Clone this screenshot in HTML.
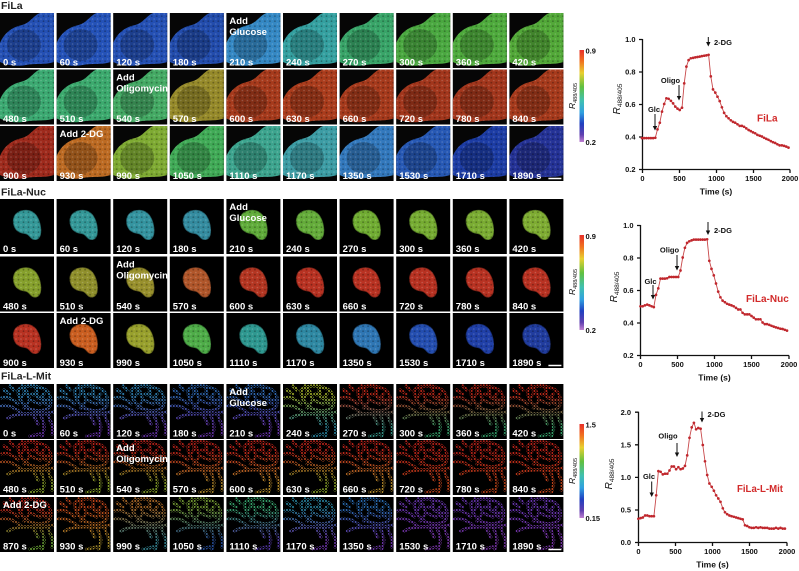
<!DOCTYPE html>
<html><head><meta charset="utf-8">
<style>
html,body{margin:0;padding:0;background:#fff}
svg{display:block}
.t{font:bold 9.5px "Liberation Sans",Arial,sans-serif;fill:#fff}
.p{font:bold 10.5px "Liberation Sans",Arial,sans-serif;fill:#222}
.a{font:bold 7.5px "Liberation Sans",Arial,sans-serif;fill:#111}
.at{font:bold 8.5px "Liberation Sans",Arial,sans-serif;fill:#111}
.yt{font:10px "Liberation Sans",Arial,sans-serif;fill:#111}
.s{font:bold 10px "Liberation Sans",Arial,sans-serif;fill:#d22a2a}
</style></head><body>
<svg width="799" height="571" viewBox="0 0 799 571" xmlns="http://www.w3.org/2000/svg">
<defs>
<pattern id="sp" width="5" height="5" patternUnits="userSpaceOnUse"><circle cx="1" cy="1" r=".8" fill="#fff" opacity=".2"/><circle cx="3.5" cy="3.2" r=".9" fill="#000" opacity=".3"/></pattern>
<pattern id="dw" width="3" height="3" patternUnits="userSpaceOnUse"><rect width="3" height="3" fill="#000"/><circle cx="1" cy="1" r=".95" fill="#fff"/><circle cx="2.3" cy="2.4" r=".55" fill="#bbb"/></pattern>
<mask id="mm" maskUnits="userSpaceOnUse" x="0" y="0" width="54" height="55">
<g fill="none" stroke="url(#dw)" stroke-width="3.3" stroke-linecap="round" stroke-linejoin="round">
<path d="M18,6 C24,1 34,1 42,4 C50,7 52,14 50,22 C46,28 36,28 28,24 C22,20 18,14 18,6 Z"/>
<path d="M26,6 L30,16 L40,20 M36,4 L38,14 L48,16 M30,16 L24,24"/>
<path d="M22,2 C26,8 24,12 20,14 M44,10 C40,12 42,18 46,20 M32,10 C34,12 36,10 36,8"/>
<path d="M2,14 C8,12 14,16 18,20 M0,22 C8,20 16,24 22,30 M4,6 L10,10 M10,2 L14,6"/>
<path d="M8,34 C18,28 32,30 44,30 L54,28"/>
<path d="M40,30 C44,38 46,44 42,52 M48,30 C50,38 54,42 52,50 M34,32 L38,40 M30,52 L40,50"/>
</g>
</mask>
<g id="F">
<rect width="54" height="55" fill="#060606"/>
<path d="M0,30 C4,20 12,14 22,12 C30,10 34,2 40,0 L54,0 L54,49 C46,52 36,50 26,52 C16,54 6,52 0,49 Z"/>
<ellipse cx="24" cy="32" rx="17" ry="16" fill="#000" opacity=".22"/>
<path d="M0,30 C4,20 12,14 22,12 C30,10 34,2 40,0 L54,0 L54,49 C46,52 36,50 26,52 C16,54 6,52 0,49 Z" fill="url(#sp)"/>
</g>
<g id="N">
<rect width="54" height="55" fill="#000"/>
<path d="M13,24 C12,14 20,10 28,11 C36,12 40,20 41,28 C42,36 40,41 35,41 C30,41 30,36 25,35 C17,34 14,30 13,24 Z"/>
<path d="M13,24 C12,14 20,10 28,11 C36,12 40,20 41,28 C42,36 40,41 35,41 C30,41 30,36 25,35 C17,34 14,30 13,24 Z" fill="url(#sp)" stroke="#000" stroke-opacity=".35" stroke-width="1.5"/>
</g>
<g id="M">
<rect width="54" height="55" fill="#000"/>
<rect width="54" height="55" mask="url(#mm)"/>
</g>
<linearGradient id="cb" x1="0" y1="0" x2="0" y2="1">
<stop offset="0" stop-color="#e8302a"/><stop offset=".12" stop-color="#f07020"/><stop offset=".25" stop-color="#e8d030"/><stop offset=".4" stop-color="#60c040"/><stop offset=".55" stop-color="#40c0b0"/><stop offset=".68" stop-color="#30a0e0"/><stop offset=".8" stop-color="#2040c0"/><stop offset=".92" stop-color="#6040b0"/><stop offset="1" stop-color="#c080d0"/>
</linearGradient>
<linearGradient id="g0" x1="0" y1="0" x2="0" y2="1"><stop offset=".2" stop-color="#3490c8"/><stop offset=".8" stop-color="#7038b8"/></linearGradient>
<linearGradient id="g1" x1="0" y1="0" x2="0" y2="1"><stop offset=".2" stop-color="#3474c8"/><stop offset=".8" stop-color="#7038b8"/></linearGradient>
<linearGradient id="g2" x1="0" y1="0" x2="0" y2="1"><stop offset=".2" stop-color="#b0c02c"/><stop offset=".8" stop-color="#2c92b0"/></linearGradient>
<linearGradient id="g3" x1="0" y1="0" x2="0" y2="1"><stop offset=".2" stop-color="#d02c1c"/><stop offset=".8" stop-color="#3aa092"/></linearGradient>
<linearGradient id="g4" x1="0" y1="0" x2="0" y2="1"><stop offset=".2" stop-color="#d02c1c"/><stop offset=".8" stop-color="#3ab074"/></linearGradient>
<linearGradient id="g5" x1="0" y1="0" x2="0" y2="1"><stop offset=".2" stop-color="#d0261c"/><stop offset=".8" stop-color="#92b02c"/></linearGradient>
<linearGradient id="g6" x1="0" y1="0" x2="0" y2="1"><stop offset=".2" stop-color="#d0261c"/><stop offset=".8" stop-color="#c0942c"/></linearGradient>
<linearGradient id="g7" x1="0" y1="0" x2="0" y2="1"><stop offset=".2" stop-color="#d0261c"/><stop offset=".8" stop-color="#d04a1c"/></linearGradient>
<linearGradient id="g8" x1="0" y1="0" x2="0" y2="1"><stop offset=".2" stop-color="#d0261c"/><stop offset=".8" stop-color="#74b03a"/></linearGradient>
<linearGradient id="g9" x1="0" y1="0" x2="0" y2="1"><stop offset=".2" stop-color="#d04a1c"/><stop offset=".8" stop-color="#b0942c"/></linearGradient>
<linearGradient id="g10" x1="0" y1="0" x2="0" y2="1"><stop offset=".2" stop-color="#c0762c"/><stop offset=".8" stop-color="#3a92a2"/></linearGradient>
<linearGradient id="g11" x1="0" y1="0" x2="0" y2="1"><stop offset=".2" stop-color="#84b03a"/><stop offset=".8" stop-color="#2c58b0"/></linearGradient>
<linearGradient id="g12" x1="0" y1="0" x2="0" y2="1"><stop offset=".2" stop-color="#3ab074"/><stop offset=".8" stop-color="#583ab0"/></linearGradient>
<linearGradient id="g13" x1="0" y1="0" x2="0" y2="1"><stop offset=".2" stop-color="#2c92b0"/><stop offset=".8" stop-color="#763ab8"/></linearGradient>
<linearGradient id="g14" x1="0" y1="0" x2="0" y2="1"><stop offset=".2" stop-color="#2c74c0"/><stop offset=".8" stop-color="#763ab8"/></linearGradient>
<linearGradient id="g15" x1="0" y1="0" x2="0" y2="1"><stop offset=".2" stop-color="#723ac0"/><stop offset=".8" stop-color="#843ab8"/></linearGradient>
<marker id="dot" markerWidth="4" markerHeight="4" refX="2" refY="2" markerUnits="userSpaceOnUse"><circle cx="2" cy="2" r="1.35" fill="#c0272d"/></marker>
</defs>

<!-- Panel labels -->
<text class="p" x="1" y="8.8">FiLa</text>
<text class="p" x="1" y="195.5">FiLa-Nuc</text>
<text class="p" x="1" y="379.5">FiLa-L-Mit</text>

<!-- ===== FiLa panel ===== -->
<g transform="translate(0,13)"><use href="#F" fill="#2450b4"/><text class="t" x="3" y="52.5">0 s</text></g>
<g transform="translate(56.6,13)"><use href="#F" fill="#2452b8"/><text class="t" x="3" y="52.5">60 s</text></g>
<g transform="translate(113.2,13)"><use href="#F" fill="#2450b4"/><text class="t" x="3" y="52.5">120 s</text></g>
<g transform="translate(169.8,13)"><use href="#F" fill="#224cac"/><text class="t" x="3" y="52.5">180 s</text></g>
<g transform="translate(226.4,13)"><use href="#F" fill="#3488c4"/><text class="t" x="3" y="11">Add</text><text class="t" x="3" y="22">Glucose</text><text class="t" x="3" y="52.5">210 s</text></g>
<g transform="translate(283,13)"><use href="#F" fill="#34a0a0"/><text class="t" x="3" y="52.5">240 s</text></g>
<g transform="translate(339.6,13)"><use href="#F" fill="#38a468"/><text class="t" x="3" y="52.5">270 s</text></g>
<g transform="translate(396.2,13)"><use href="#F" fill="#4aa840"/><text class="t" x="3" y="52.5">300 s</text></g>
<g transform="translate(452.8,13)"><use href="#F" fill="#4eaa3c"/><text class="t" x="3" y="52.5">360 s</text></g>
<g transform="translate(509.4,13)"><use href="#F" fill="#52a838"/><text class="t" x="3" y="52.5">420 s</text></g>

<g transform="translate(0,69.5)"><use href="#F" fill="#3caa72"/><text class="t" x="3" y="52.5">480 s</text></g>
<g transform="translate(56.6,69.5)"><use href="#F" fill="#3caa6e"/><text class="t" x="3" y="52.5">510 s</text></g>
<g transform="translate(113.2,69.5)"><use href="#F" fill="#44aa64"/><text class="t" x="3" y="11">Add</text><text class="t" x="3" y="22">Oligomycin</text><text class="t" x="3" y="52.5">540 s</text></g>
<g transform="translate(169.8,69.5)"><use href="#F" fill="#968a2a"/><text class="t" x="3" y="52.5">570 s</text></g>
<g transform="translate(226.4,69.5)"><use href="#F" fill="#a63a1c"/><text class="t" x="3" y="52.5">600 s</text></g>
<g transform="translate(283,69.5)"><use href="#F" fill="#aa3c1c"/><text class="t" x="3" y="52.5">630 s</text></g>
<g transform="translate(339.6,69.5)"><use href="#F" fill="#a63a1c"/><text class="t" x="3" y="52.5">660 s</text></g>
<g transform="translate(396.2,69.5)"><use href="#F" fill="#a2361c"/><text class="t" x="3" y="52.5">720 s</text></g>
<g transform="translate(452.8,69.5)"><use href="#F" fill="#a2361c"/><text class="t" x="3" y="52.5">780 s</text></g>
<g transform="translate(509.4,69.5)"><use href="#F" fill="#a63a1c"/><text class="t" x="3" y="52.5">840 s</text></g>

<g transform="translate(0,126)"><use href="#F" fill="#9e2a1c"/><text class="t" x="3" y="53">900 s</text></g>
<g transform="translate(56.6,126)"><use href="#F" fill="#bc6a22"/><text class="t" x="3" y="11">Add 2-DG</text><text class="t" x="3" y="53">930 s</text></g>
<g transform="translate(113.2,126)"><use href="#F" fill="#7eaa32"/><text class="t" x="3" y="53">990 s</text></g>
<g transform="translate(169.8,126)"><use href="#F" fill="#40aa56"/><text class="t" x="3" y="53">1050 s</text></g>
<g transform="translate(226.4,126)"><use href="#F" fill="#3ca48e"/><text class="t" x="3" y="53">1110 s</text></g>
<g transform="translate(283,126)"><use href="#F" fill="#3c9ca4"/><text class="t" x="3" y="53">1170 s</text></g>
<g transform="translate(339.6,126)"><use href="#F" fill="#3278bc"/><text class="t" x="3" y="53">1350 s</text></g>
<g transform="translate(396.2,126)"><use href="#F" fill="#2658b4"/><text class="t" x="3" y="53">1530 s</text></g>
<g transform="translate(452.8,126)"><use href="#F" fill="#1c3ca4"/><text class="t" x="3" y="53">1710 s</text></g>
<g transform="translate(509.4,126)"><use href="#F" fill="#243296"/><text class="t" x="3" y="53">1890 s</text><line x1="39" y1="52.5" x2="52" y2="52.5" stroke="#fff" stroke-width="1.5"/></g>

<!-- ===== FiLa-Nuc panel ===== -->
<g transform="translate(0,199)"><use href="#N" fill="#349898"/><text class="t" x="3" y="53">0 s</text></g>
<g transform="translate(56.6,199)"><use href="#N" fill="#349898"/><text class="t" x="3" y="53">60 s</text></g>
<g transform="translate(113.2,199)"><use href="#N" fill="#3494a0"/><text class="t" x="3" y="53">120 s</text></g>
<g transform="translate(169.8,199)"><use href="#N" fill="#348ca0"/><text class="t" x="3" y="53">180 s</text></g>
<g transform="translate(226.4,199)"><use href="#N" fill="#60ac3a"/><text class="t" x="3" y="11">Add</text><text class="t" x="3" y="22">Glucose</text><text class="t" x="3" y="53">210 s</text></g>
<g transform="translate(283,199)"><use href="#N" fill="#64ac3a"/><text class="t" x="3" y="53">240 s</text></g>
<g transform="translate(339.6,199)"><use href="#N" fill="#70ac32"/><text class="t" x="3" y="53">270 s</text></g>
<g transform="translate(396.2,199)"><use href="#N" fill="#76ac32"/><text class="t" x="3" y="53">300 s</text></g>
<g transform="translate(452.8,199)"><use href="#N" fill="#7aac32"/><text class="t" x="3" y="53">360 s</text></g>
<g transform="translate(509.4,199)"><use href="#N" fill="#7eac32"/><text class="t" x="3" y="53">420 s</text></g>

<g transform="translate(0,256.5)"><use href="#N" fill="#86a02c"/><text class="t" x="3" y="53">480 s</text></g>
<g transform="translate(56.6,256.5)"><use href="#N" fill="#90902c"/><text class="t" x="3" y="53">510 s</text></g>
<g transform="translate(113.2,256.5)"><use href="#N" fill="#98902c"/><text class="t" x="3" y="11">Add</text><text class="t" x="3" y="22">Oligomycin</text><text class="t" x="3" y="53">540 s</text></g>
<g transform="translate(169.8,256.5)"><use href="#N" fill="#b0562a"/><text class="t" x="3" y="53">570 s</text></g>
<g transform="translate(226.4,256.5)"><use href="#N" fill="#b43622"/><text class="t" x="3" y="53">600 s</text></g>
<g transform="translate(283,256.5)"><use href="#N" fill="#b83222"/><text class="t" x="3" y="53">630 s</text></g>
<g transform="translate(339.6,256.5)"><use href="#N" fill="#b83222"/><text class="t" x="3" y="53">660 s</text></g>
<g transform="translate(396.2,256.5)"><use href="#N" fill="#b83222"/><text class="t" x="3" y="53">720 s</text></g>
<g transform="translate(452.8,256.5)"><use href="#N" fill="#b83222"/><text class="t" x="3" y="53">780 s</text></g>
<g transform="translate(509.4,256.5)"><use href="#N" fill="#b83222"/><text class="t" x="3" y="53">840 s</text></g>

<g transform="translate(0,313)"><use href="#N" fill="#b83222"/><text class="t" x="3" y="53">900 s</text></g>
<g transform="translate(56.6,313)"><use href="#N" fill="#ca5e20"/><text class="t" x="3" y="11">Add 2-DG</text><text class="t" x="3" y="53">930 s</text></g>
<g transform="translate(113.2,313)"><use href="#N" fill="#98a02c"/><text class="t" x="3" y="53">990 s</text></g>
<g transform="translate(169.8,313)"><use href="#N" fill="#4eac48"/><text class="t" x="3" y="53">1050 s</text></g>
<g transform="translate(226.4,313)"><use href="#N" fill="#2e9890"/><text class="t" x="3" y="53">1110 s</text></g>
<g transform="translate(283,313)"><use href="#N" fill="#2e88a2"/><text class="t" x="3" y="53">1170 s</text></g>
<g transform="translate(339.6,313)"><use href="#N" fill="#2e76b4"/><text class="t" x="3" y="53">1350 s</text></g>
<g transform="translate(396.2,313)"><use href="#N" fill="#244eb0"/><text class="t" x="3" y="53">1530 s</text></g>
<g transform="translate(452.8,313)"><use href="#N" fill="#2040a8"/><text class="t" x="3" y="53">1710 s</text></g>
<g transform="translate(509.4,313)"><use href="#N" fill="#203c9e"/><text class="t" x="3" y="53">1890 s</text><line x1="39" y1="52.5" x2="52" y2="52.5" stroke="#fff" stroke-width="1.5"/></g>

<!-- ===== FiLa-L-Mit panel ===== -->
<g transform="translate(0,384)"><use href="#M" fill="url(#g0)"/><text class="t" x="3" y="52.5">0 s</text></g>
<g transform="translate(56.6,384)"><use href="#M" fill="url(#g0)"/><text class="t" x="3" y="52.5">60 s</text></g>
<g transform="translate(113.2,384)"><use href="#M" fill="url(#g0)"/><text class="t" x="3" y="52.5">120 s</text></g>
<g transform="translate(169.8,384)"><use href="#M" fill="url(#g1)"/><text class="t" x="3" y="52.5">180 s</text></g>
<g transform="translate(226.4,384)"><use href="#M" fill="url(#g1)"/><text class="t" x="3" y="11">Add</text><text class="t" x="3" y="22">Glucose</text><text class="t" x="3" y="52.5">210 s</text></g>
<g transform="translate(283,384)"><use href="#M" fill="url(#g2)"/><text class="t" x="3" y="52.5">240 s</text></g>
<g transform="translate(339.6,384)"><use href="#M" fill="url(#g3)"/><text class="t" x="3" y="52.5">270 s</text></g>
<g transform="translate(396.2,384)"><use href="#M" fill="url(#g4)"/><text class="t" x="3" y="52.5">300 s</text></g>
<g transform="translate(452.8,384)"><use href="#M" fill="url(#g4)"/><text class="t" x="3" y="52.5">360 s</text></g>
<g transform="translate(509.4,384)"><use href="#M" fill="url(#g4)"/><text class="t" x="3" y="52.5">420 s</text></g>

<g transform="translate(0,440)"><use href="#M" fill="url(#g5)"/><text class="t" x="3" y="52.5">480 s</text></g>
<g transform="translate(56.6,440)"><use href="#M" fill="url(#g5)"/><text class="t" x="3" y="52.5">510 s</text></g>
<g transform="translate(113.2,440)"><use href="#M" fill="url(#g5)"/><text class="t" x="3" y="11">Add</text><text class="t" x="3" y="22">Oligomycin</text><text class="t" x="3" y="52.5">540 s</text></g>
<g transform="translate(169.8,440)"><use href="#M" fill="url(#g6)"/><text class="t" x="3" y="52.5">570 s</text></g>
<g transform="translate(226.4,440)"><use href="#M" fill="url(#g6)"/><text class="t" x="3" y="52.5">600 s</text></g>
<g transform="translate(283,440)"><use href="#M" fill="url(#g5)"/><text class="t" x="3" y="52.5">630 s</text></g>
<g transform="translate(339.6,440)"><use href="#M" fill="url(#g6)"/><text class="t" x="3" y="52.5">660 s</text></g>
<g transform="translate(396.2,440)"><use href="#M" fill="url(#g7)"/><text class="t" x="3" y="52.5">720 s</text></g>
<g transform="translate(452.8,440)"><use href="#M" fill="url(#g7)"/><text class="t" x="3" y="52.5">780 s</text></g>
<g transform="translate(509.4,440)"><use href="#M" fill="url(#g7)"/><text class="t" x="3" y="52.5">840 s</text></g>

<g transform="translate(0,497)"><use href="#M" fill="url(#g8)"/><text class="t" x="3" y="11">Add 2-DG</text><text class="t" x="3" y="52.5">870 s</text></g>
<g transform="translate(56.6,497)"><use href="#M" fill="url(#g9)"/><text class="t" x="3" y="52.5">930 s</text></g>
<g transform="translate(113.2,497)"><use href="#M" fill="url(#g10)"/><text class="t" x="3" y="52.5">990 s</text></g>
<g transform="translate(169.8,497)"><use href="#M" fill="url(#g11)"/><text class="t" x="3" y="52.5">1050 s</text></g>
<g transform="translate(226.4,497)"><use href="#M" fill="url(#g12)"/><text class="t" x="3" y="52.5">1110 s</text></g>
<g transform="translate(283,497)"><use href="#M" fill="url(#g13)"/><text class="t" x="3" y="52.5">1170 s</text></g>
<g transform="translate(339.6,497)"><use href="#M" fill="url(#g14)"/><text class="t" x="3" y="52.5">1350 s</text></g>
<g transform="translate(396.2,497)"><use href="#M" fill="url(#g15)"/><text class="t" x="3" y="52.5">1530 s</text></g>
<g transform="translate(452.8,497)"><use href="#M" fill="url(#g15)"/><text class="t" x="3" y="52.5">1710 s</text></g>
<g transform="translate(509.4,497)"><use href="#M" fill="url(#g15)"/><text class="t" x="3" y="52.5">1890 s</text><line x1="39" y1="52.5" x2="52" y2="52.5" stroke="#fff" stroke-width="1.5"/></g>

<!-- ===== Colorbars ===== -->
<rect x="579.5" y="50" width="4.5" height="92" fill="url(#cb)"/>
<text class="a" x="585.5" y="53.5">0.9</text>
<text class="a" x="585.5" y="145">0.2</text>
<text class="yt" transform="translate(575,96) rotate(-90)" text-anchor="middle" style="font-size:8.5px"><tspan font-style="italic">R</tspan><tspan style="font-size:5.5px" dy="1.8">488/405</tspan></text>

<rect x="579.5" y="235" width="4.5" height="95" fill="url(#cb)"/>
<text class="a" x="585.5" y="239">0.9</text>
<text class="a" x="585.5" y="333">0.2</text>
<text class="yt" transform="translate(575,282) rotate(-90)" text-anchor="middle" style="font-size:8.5px"><tspan font-style="italic">R</tspan><tspan style="font-size:5.5px" dy="1.8">488/405</tspan></text>

<rect x="579.5" y="424" width="4.5" height="94" fill="url(#cb)"/>
<text class="a" x="585.5" y="427.5">1.5</text>
<text class="a" x="585.5" y="521">0.15</text>
<text class="yt" transform="translate(575,471) rotate(-90)" text-anchor="middle" style="font-size:8.5px"><tspan font-style="italic">R</tspan><tspan style="font-size:5.5px" dy="1.8">488/405</tspan></text>

<!-- ===== Chart 1 ===== -->
<g stroke="#111" stroke-width="1.3" fill="none">
<path d="M642.5,39 V169.5 H790"/>
<path d="M639,39.5 H642.5 M639,72 H642.5 M639,104.5 H642.5 M639,137 H642.5 M639,169.5 H642.5"/>
<path d="M642.5,169.5 V173 M679.5,169.5 V173 M716.5,169.5 V173 M753.5,169.5 V173 M790,169.5 V173"/>
</g>
<g class="a" text-anchor="end">
<text x="635.5" y="42.2">1.0</text><text x="635.5" y="74.7">0.8</text><text x="635.5" y="107.2">0.6</text><text x="635.5" y="139.7">0.4</text><text x="635.5" y="172.2">0.2</text>
</g>
<g class="a" text-anchor="middle">
<text x="642.5" y="181">0</text><text x="679.5" y="181">500</text><text x="716.5" y="181">1000</text><text x="753.5" y="181">1500</text><text x="790" y="181">2000</text>
</g>
<text class="at" x="716" y="194.5" text-anchor="middle">Time (s)</text>
<text class="yt" transform="translate(620,99) rotate(-90)" text-anchor="middle"><tspan font-style="italic">R</tspan><tspan style="font-size:6.5px" dy="2">488/405</tspan></text>
<polyline fill="none" stroke="#c8484a" stroke-width=".9" marker-start="url(#dot)" marker-mid="url(#dot)" marker-end="url(#dot)" points="642,138.1 644.2,138.1 646.4,138.1 648.7,138.1 650.9,138.1 653.1,138.1 655.3,137.8 657.5,129.4 659.8,122.7 662,111.6 664.2,104 666.4,98.3 668.6,98.8 670.9,100.8 673.1,103.4 675.3,106.6 677.5,108.6 679.7,110 682,107.7 684.2,83.4 686.4,66.6 688.6,60.1 690.8,58.3 693.1,57.9 695.3,57.4 697.5,57 699.7,56.6 701.9,56.1 704.2,55.7 706.4,55.4 708.6,54.8 710.8,76.4 713,89.4 715.3,92.6 717.5,96.7 719.7,101.1 721.9,107.3 724.1,112.9 726.4,116.2 728.6,118.3 730.8,120.3 733,121.9 735.2,122.7 737.5,124.3 739.7,125.9 741.9,125.9 744.1,126.8 746.3,128.4 748.6,130 750.8,131.1 753,132.4 755.2,133.3 757.4,134.9 759.7,135.7 761.9,136.5 764.1,137.8 766.3,138.9 768.5,139.8 770.8,141.1 773,142.2 775.2,143 777.4,144.3 779.6,145.4 781.9,145.4 784.1,145.9 786.3,146.6 788.5,147.6"/>
<g stroke="#111" stroke-width="1"><line x1="655" y1="114" x2="655" y2="127"/><line x1="679" y1="85" x2="679" y2="97"/><line x1="708.3" y1="37" x2="708.3" y2="43"/></g>
<g fill="#111"><polygon points="652.8,126 657.2,126 655,130.5"/><polygon points="676.8,96 681.2,96 679,100.5"/><polygon points="706.1,42 710.5,42 708.3,46.5"/></g>
<text class="a" x="654" y="112" text-anchor="middle">Glc</text>
<text class="a" x="670.5" y="83" text-anchor="middle">Oligo</text>
<text class="a" x="714" y="45">2-DG</text>
<text class="s" x="757" y="121.5">FiLa</text>

<!-- ===== Chart 2 ===== -->
<g stroke="#111" stroke-width="1.3" fill="none">
<path d="M640.5,225 V355.5 H789"/>
<path d="M637,225.5 H640.5 M637,258 H640.5 M637,290.5 H640.5 M637,323 H640.5 M637,355.5 H640.5"/>
<path d="M640.5,355.5 V359 M677.5,355.5 V359 M714.5,355.5 V359 M751.5,355.5 V359 M789,355.5 V359"/>
</g>
<g class="a" text-anchor="end">
<text x="633.5" y="228.2">1.0</text><text x="633.5" y="260.7">0.8</text><text x="633.5" y="293.2">0.6</text><text x="633.5" y="325.7">0.4</text><text x="633.5" y="358.2">0.2</text>
</g>
<g class="a" text-anchor="middle">
<text x="640.5" y="367">0</text><text x="677.5" y="367">500</text><text x="714.5" y="367">1000</text><text x="751.5" y="367">1500</text><text x="789" y="367">2000</text>
</g>
<text class="at" x="714.5" y="380.5" text-anchor="middle">Time (s)</text>
<text class="yt" transform="translate(617,287) rotate(-90)" text-anchor="middle"><tspan font-style="italic">R</tspan><tspan style="font-size:6.5px" dy="2">488/405</tspan></text>
<polyline transform="translate(-1.5,0)" fill="none" stroke="#c8484a" stroke-width=".9" marker-start="url(#dot)" marker-mid="url(#dot)" marker-end="url(#dot)" points="642,306.3 644.2,306.3 646.4,305.4 648.7,304.6 650.9,305.4 653.1,306.3 655.3,307.1 657.5,294.9 659.8,288.4 662,278.6 664.2,278.6 666.4,278.6 668.6,278.3 670.9,277 673.1,277 675.3,277 677.5,277 679.7,277 682,270.5 684.2,257.5 686.4,247.8 688.6,242.9 690.8,241.3 693.1,240.4 695.3,239.6 697.5,239.6 699.7,239.6 701.9,239.6 704.2,239.6 706.4,239.6 708.6,239.3 710.8,260.8 713,268.9 715.3,275.4 717.5,283.5 719.7,291.6 721.9,297.3 724.1,300.6 726.4,302.2 728.6,303.8 730.8,304.6 733,305.4 735.2,306.3 737.5,307.9 739.7,309.5 741.9,309.5 744.1,312.8 746.3,314.4 748.6,314.4 750.8,314.4 753,316 755.2,317.6 757.4,319.3 759.7,319.3 761.9,319.3 764.1,322.5 766.3,324.1 768.5,324.1 770.8,324.9 773,325.8 775.2,326.6 777.4,327.4 779.6,328 781.9,328.7 784.1,329 786.3,329.8 788.5,330.6"/>
<g stroke="#111" stroke-width="1"><line x1="653" y1="285" x2="653" y2="296"/><line x1="677" y1="255" x2="677" y2="267"/><line x1="708" y1="222" x2="708" y2="231"/></g>
<g fill="#111"><polygon points="650.8,295 655.2,295 653,299.5"/><polygon points="674.8,266 679.2,266 677,270.5"/><polygon points="705.8,230.5 710.2,230.5 708,235"/></g>
<text class="a" x="650.5" y="284" text-anchor="middle">Glc</text>
<text class="a" x="669.5" y="252.5" text-anchor="middle">Oligo</text>
<text class="a" x="714" y="233">2-DG</text>
<text class="s" x="746" y="302">FiLa-Nuc</text>

<!-- ===== Chart 3 ===== -->
<g stroke="#111" stroke-width="1.3" fill="none">
<path d="M638.5,411.7 V542.5 H787"/>
<path d="M635,412.2 H638.5 M635,444.8 H638.5 M635,477.4 H638.5 M635,510 H638.5 M635,542.5 H638.5"/>
<path d="M638.5,542.5 V546 M675.5,542.5 V546 M712.5,542.5 V546 M749.5,542.5 V546 M787,542.5 V546"/>
</g>
<g class="a" text-anchor="end">
<text x="631" y="414.9">2.0</text><text x="631" y="447.5">1.5</text><text x="631" y="480.1">1.0</text><text x="631" y="512.7">0.5</text><text x="631" y="545.2">0.0</text>
</g>
<g class="a" text-anchor="middle">
<text x="638.5" y="554">0</text><text x="675.5" y="554">500</text><text x="712.5" y="554">1000</text><text x="749.5" y="554">1500</text><text x="787" y="554">2000</text>
</g>
<text class="at" x="712.5" y="567.5" text-anchor="middle">Time (s)</text>
<text class="yt" transform="translate(612,474) rotate(-90)" text-anchor="middle"><tspan font-style="italic">R</tspan><tspan style="font-size:6.5px" dy="2">488/405</tspan></text>
<polyline transform="translate(-3.6,0)" fill="none" stroke="#c8484a" stroke-width=".9" marker-start="url(#dot)" marker-mid="url(#dot)" marker-end="url(#dot)" points="642,518.8 644.2,518.1 646.4,517.5 648.7,515.5 650.9,515.5 653.1,516.2 655.3,516.2 657.5,516.2 659.8,495.3 662,471.1 664.2,471.8 666.4,474.4 668.6,473.7 670.9,473.7 673.1,470.5 675.3,466.5 677.5,466.5 679.7,469.2 682,467.2 684.2,469.2 686.4,468.5 688.6,465.9 690.8,455.4 693.1,437.8 695.3,427.4 697.5,422.8 699.7,429.3 701.9,428 704.2,428.7 706.4,445 708.6,461.3 710.8,475 713,483.5 715.3,486.8 717.5,490.7 719.7,495.3 721.9,498.5 724.1,501.8 726.4,508.3 728.6,512.3 730.8,514.2 733,515.5 735.2,516.2 737.5,516.8 739.7,517.5 741.9,518.1 744.1,518.8 746.3,519.4 748.6,525.3 750.8,526 753,527.3 755.2,527.9 757.4,527.9 759.7,527.3 761.9,527.9 764.1,527.3 766.3,527.9 768.5,527.9 770.8,527.9 773,528.6 775.2,528.6 777.4,528.6 779.6,527.9 781.9,528.6 784.1,527.9 786.3,528.6 788.5,528.6"/>
<g stroke="#111" stroke-width="1"><line x1="651.7" y1="481.5" x2="651.7" y2="493"/><line x1="677" y1="443" x2="677" y2="453"/><line x1="702" y1="411.5" x2="702" y2="418.5"/></g>
<g fill="#111"><polygon points="649.5,492.5 653.9,492.5 651.7,497"/><polygon points="674.8,452.5 679.2,452.5 677,457"/><polygon points="699.8,418 704.2,418 702,422.5"/></g>
<text class="a" x="649" y="479" text-anchor="middle">Glc</text>
<text class="a" x="668" y="438.7" text-anchor="middle">Oligo</text>
<text class="a" x="707.5" y="417">2-DG</text>
<text class="s" x="737" y="492" textLength="46" lengthAdjust="spacingAndGlyphs">FiLa-L-Mit</text>
</svg>
</body></html>
